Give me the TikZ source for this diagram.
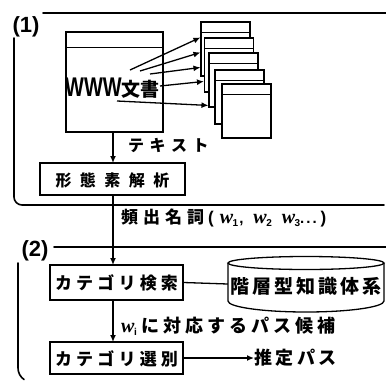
\documentclass[tikz,border=0pt]{standalone}
\usepackage{fontspec}
\usepackage{graphicx}
\setmainfont{Noto Sans CJK JP}
\newfontfamily\jp{Noto Sans CJK JP}
\newfontfamily\lat{Liberation Sans}
\newfontfamily\wser{Liberation Serif}
\usetikzlibrary{calc,arrows.meta}
\makeatletter
\newcommand\spaced[2]{\def\sp@gap{#1}\sp@loop#2\relax}
\def\sp@loop#1{\ifx\relax#1\else#1\kern\sp@gap\expandafter\sp@loop\fi}
\makeatother
\newcommand\fs[1]{\fontsize{#1}{#1}\selectfont}
\newcommand\wsub[1]{{\wser\bfseries\itshape\fs{20}w}\kern-0.5pt\raisebox{-3pt}{\lat\bfseries\fs{10}#1}}
\tikzset{
  frame/.style={line width=1.6pt, line cap=round},
  box/.style={draw, line width=1.3pt, inner sep=0pt},
  page/.style={draw, fill=white, line width=1.1pt, minimum width=49pt, minimum height=54pt, inner sep=0pt},
  conn/.style={line width=1.3pt},
  arr/.style={line width=1.3pt, -{Latex[length=7pt,width=6pt]}},
  lbl/.style={inner sep=0pt, font=\jp\bfseries},
}
\begin{document}
\begin{tikzpicture}[x=1pt,y=-1pt]
\useasboundingbox (0,0) rectangle (386,381);
% frame (1)
\node[inner sep=0pt, font=\lat\bfseries\fs{22}] (l1) at (26,27) {(1)};
\draw[frame] (43,13) -- (386,13);
\draw[frame, rounded corners=8pt] (14,38) -- (14,205) -- (384,205);
% frame (2)
\node[inner sep=0pt, font=\lat\bfseries\fs{22}] (l2) at (35,251) {(2)};
\draw[frame] (54,247) -- (386,247);
\draw[frame] (18,263) -- (18,368) arc[start angle=180, end angle=125, radius=14];
% WWW document
\node[box, minimum width=97pt, minimum height=100pt] (www) at (114.5,82) {};
\draw[line width=1.2pt] ($(www.north west)+(0,16)$) -- ($(www.north east)+(0,16)$);
\node[inner sep=0pt, anchor=base west] (wwwt) at (65,96) {\lat\bfseries\fs{27}\scalebox{0.74}[1]{WWW}\kern0pt{\jp\bfseries\fs{19}文書}};
% pages
\foreach \n/\x/\y in {p1/225.5/49, p2/229/65, p3/233.5/80, p4/239.5/97, p5/246.5/111}{
  \node[page] (\n) at (\x,\y) {};
  \draw[line width=1.0pt] ($(\n.north west)+(0,11)$) -- ($(\n.north east)+(0,11)$);
}
\coordinate (a1) at (130,70);
\coordinate (a2) at (140,71);
\coordinate (a3) at (150,74);
\coordinate (a4) at (160,86);
\coordinate (a5) at (117,101);
\coordinate (e1) at ($(p1.north west)+(0,16)$);
\coordinate (e2) at ($(p1.north west)+(0,31)$);
\coordinate (e3) at ($(p1.north west)+(0,46)$);
\coordinate (e4) at ($(p2.north west)+(0,44)$);
\coordinate (e5) at ($(p3.north west)+(0,53)$);
\foreach \i in {1,...,5}{ \draw[arr] (a\i) -- (e\i); }
% morphological analysis
\node[box, minimum width=145pt, minimum height=32pt] (morph) at (112.5,179) {};
\node[lbl] (morpht) at (112.5,180) {\fs{16}\spaced{8.5pt}{形態素解}析};
\draw[arr] (113,132) -- (113,163);
\node[lbl, anchor=west] (text) at (128,145) {\fs{16}\spaced{5.5pt}{テキス}ト};
% category search
\node[box, minimum width=133pt, minimum height=35pt] (search) at (116.5,282.5) {};
\node[lbl] (searcht) at (116.5,283) {\fs{17}\spaced{4.2pt}{カテゴリ検}索};
\draw[arr] (113,195) -- (113,265);
\node[lbl, anchor=west] (freq) at (121,218) {\fs{17}\spaced{5pt}{頻出名}詞\kern4pt{\lat\bfseries\fs{17}(\kern6pt}\wsub{1}\kern1pt{\lat\bfseries\fs{15},}\kern10pt\wsub{2}\kern10pt\wsub{3}\kern0pt{\lat\bfseries\fs{15}\spaced{2pt}{..}.}{\lat\bfseries\fs{17}\kern4pt)}};
% knowledge base cylinder
\node[inner sep=0pt, minimum width=156pt, minimum height=38pt] (kb) at (306,284) {};
\draw[line width=1.3pt] (306,263) ellipse[x radius=78, y radius=6.5];
\draw[line width=1.3pt] (228,263) -- (228,301) arc[start angle=180, end angle=0, x radius=78, y radius=11] -- (384,263);
\node[lbl] (kbt) at (306,286) {\fs{19}\spaced{3pt}{階層型知識体}系};
\draw[conn] (search.east) -- (kb.west);
% category selection
\node[box, minimum width=133pt, minimum height=32pt] (select) at (116.5,358) {};
\node[lbl] (selectt) at (116.5,358.5) {\fs{17}\spaced{4.2pt}{カテゴリ選}別};
\draw[arr] (113,300) -- (113,342);
\node[lbl, anchor=west] (cand) at (121,326) {\wsub{i}\kern5pt\fs{18}\spaced{4pt}{に対応するパス候}補};
% estimated path
\node[lbl, anchor=west] (est) at (254,358) {\fs{18}\spaced{3.5pt}{推定パ}ス};
\draw[arr] (select.east) -- (est.west);
\end{tikzpicture}
\end{document}
